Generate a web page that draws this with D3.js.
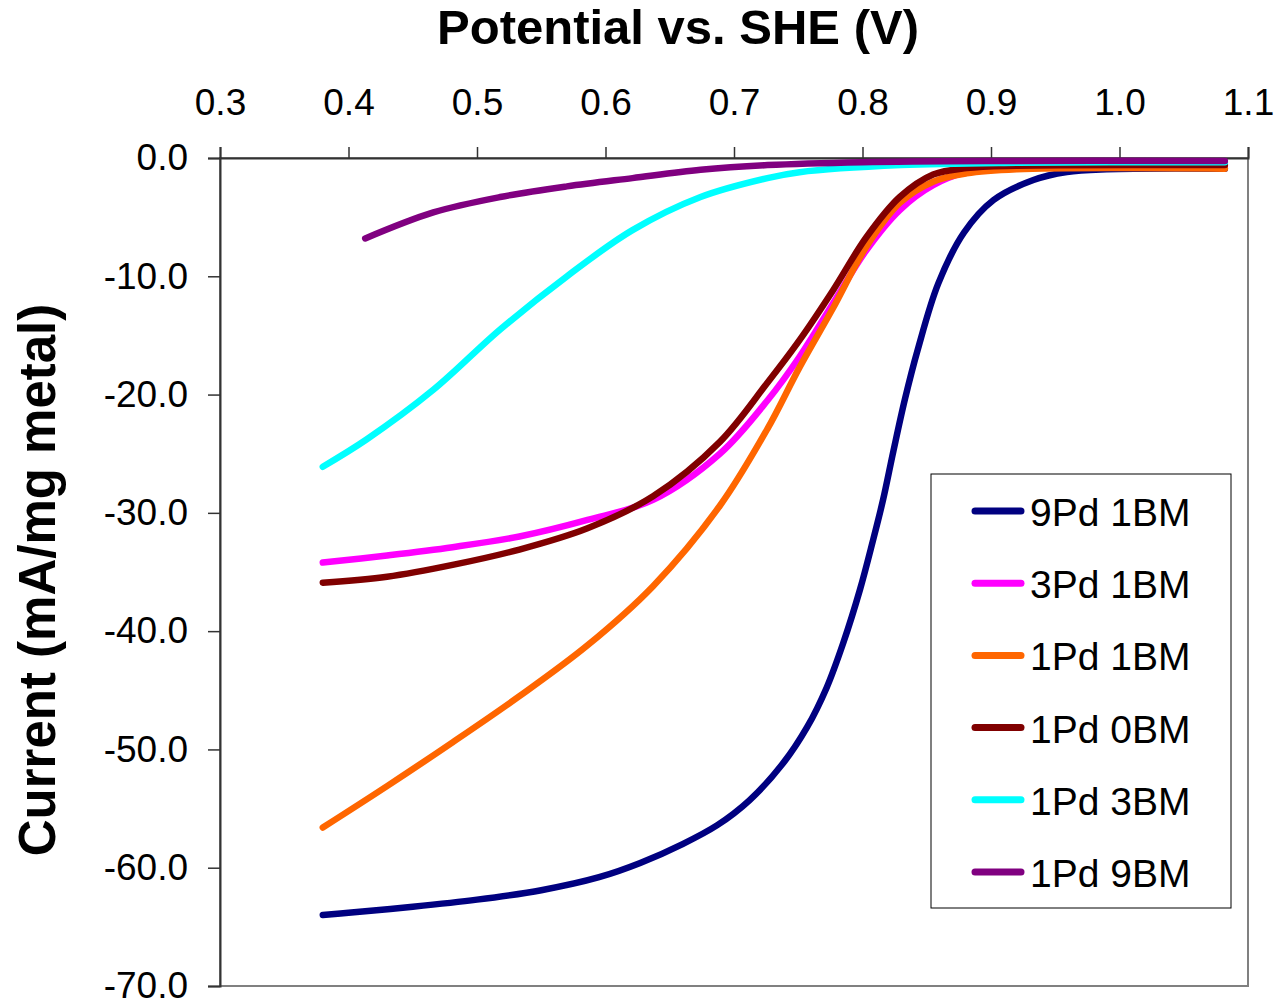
<!DOCTYPE html>
<html>
<head>
<meta charset="utf-8">
<script src="https://cdn.jsdelivr.net/npm/d3@7"></script>
<style>
  body { margin: 0; background: #fff; }
  svg { display: block; font-family: "Liberation Sans", Arial, sans-serif; }
</style>
</head>
<body>
<div id="chart"></div>
<script>
// potential vs SHE (V), current (mA/mg metal)
const pd9bm1 = [[0.380,-64.0],[0.40,-63.8],[0.45,-63.3],[0.50,-62.7],[0.55,-61.9],[0.595,-60.8],[0.627,-59.6],[0.660,-58.0],[0.687,-56.4],[0.712,-54.3],[0.738,-51.2],[0.757,-48.1],[0.772,-44.8],[0.785,-41.0],[0.798,-36.5],[0.808,-32.4],[0.816,-28.9],[0.824,-24.8],[0.833,-20.4],[0.843,-16.2],[0.859,-10.6],[0.879,-6.3],[0.902,-3.55],[0.933,-1.86],[0.959,-1.18],[0.99,-0.95],[1.082,-0.9]];
const pd3bm1 = [[0.380,-34.2],[0.430,-33.6],[0.481,-32.9],[0.533,-32.0],[0.586,-30.6],[0.637,-28.9],[0.689,-25.0],[0.726,-20.5],[0.751,-16.8],[0.777,-12.3],[0.803,-7.8],[0.829,-4.4],[0.855,-2.3],[0.881,-1.2],[0.92,-0.75],[1.082,-0.6]];
const pd1bm1 = [[0.380,-56.6],[0.430,-53.1],[0.481,-49.4],[0.533,-45.5],[0.586,-41.2],[0.637,-36.2],[0.689,-29.4],[0.726,-22.9],[0.751,-17.7],[0.777,-12.7],[0.803,-7.5],[0.829,-3.8],[0.855,-2.0],[0.881,-1.3],[0.92,-0.95],[1.082,-0.9]];
const pd1bm0 = [[0.380,-35.9],[0.430,-35.4],[0.481,-34.4],[0.533,-33.1],[0.586,-31.3],[0.637,-28.6],[0.689,-24.0],[0.726,-19.0],[0.751,-15.4],[0.777,-11.2],[0.803,-6.7],[0.829,-3.3],[0.855,-1.4],[0.881,-0.85],[0.92,-0.65],[1.082,-0.6]];
const pd1bm3 = [[0.380,-26.1],[0.414,-23.8],[0.466,-19.6],[0.518,-14.5],[0.570,-10.0],[0.621,-6.1],[0.674,-3.3],[0.726,-1.7],[0.751,-1.2],[0.83,-0.6],[0.92,-0.4],[1.082,-0.35]];
const pd1bm9 = [[0.413,-6.8],[0.466,-4.6],[0.518,-3.3],[0.570,-2.4],[0.621,-1.7],[0.674,-1.0],[0.726,-0.6],[0.80,-0.35],[0.90,-0.25],[1.082,-0.25]];

const names = ["9Pd 1BM", "3Pd 1BM", "1Pd 1BM", "1Pd 0BM", "1Pd 3BM", "1Pd 9BM"];
const colors = ["#000080", "#ff00ff", "#ff6600", "#800000", "#00ffff", "#800080"];
const seriesData = [pd9bm1, pd3bm1, pd1bm1, pd1bm0, pd1bm3, pd1bm9];

const xTicks = [0.3, 0.4, 0.5, 0.6, 0.7, 0.8, 0.9, 1.0, 1.1];
const yTicks = [0, -10, -20, -30, -40, -50, -60, -70];

const width = 1276, height = 1001;
const margin = { top: 158, right: 28, bottom: 15, left: 220 };

const x = d3.scaleLinear().domain([0.3, 1.1]).range([margin.left, width - margin.right]);
const y = d3.scaleLinear().domain([0, -70]).range([margin.top, height - margin.bottom]);

// excel style labels: plain hyphen, one decimal
const fmt = d => d.toFixed(1);

const svg = d3.select("#chart").append("svg")
  .attr("width", width)
  .attr("height", height);

// plot area border (right and bottom)
svg.append("rect")
  .attr("x", x(0.3)).attr("y", y(0))
  .attr("width", x(1.1) - x(0.3)).attr("height", y(-70) - y(0))
  .attr("fill", "none").attr("stroke", "#808080").attr("stroke-width", 2);

// x axis on top
const xAxis = svg.append("g")
  .attr("transform", `translate(0,${y(0)})`)
  .call(d3.axisTop(x).tickValues(xTicks).tickFormat(fmt).tickSizeOuter(0).tickSize(11).tickPadding(32));

// y axis on left
const yAxis = svg.append("g")
  .attr("transform", `translate(${x(0.3)},0)`)
  .call(d3.axisLeft(y).tickValues(yTicks).tickFormat(fmt).tickSizeOuter(0).tickSize(12).tickPadding(20));

[xAxis, yAxis].forEach(g => {
  g.select(".domain").attr("stroke", "#333").attr("stroke-width", 2);
  g.selectAll(".tick line").attr("stroke", "#333").attr("stroke-width", 1.5);
  g.selectAll(".tick text")
    .attr("fill", "#000")
    .style("font-size", "37px")
    .style("font-family", "'Liberation Sans', Arial, sans-serif");
});
xAxis.selectAll(".tick text").attr("dy", "0em");

const line = d3.line()
  .x(d => x(d[0]))
  .y(d => y(d[1]))
  .curve(d3.curveCatmullRom.alpha(0.5));

svg.append("g")
  .selectAll("path")
  .data(seriesData)
  .join("path")
  .attr("d", line)
  .attr("fill", "none")
  .attr("stroke", (d, i) => colors[i])
  .attr("stroke-width", 6.5)
  .attr("stroke-linecap", "round")
  .attr("stroke-linejoin", "round");

// titles
svg.append("text")
  .attr("x", 678).attr("y", 44)
  .attr("text-anchor", "middle")
  .style("font-size", "49px").style("font-weight", "bold")
  .text("Potential vs. SHE (V)");

svg.append("text")
  .attr("transform", `translate(55,580) rotate(-90)`)
  .attr("text-anchor", "middle")
  .style("font-size", "51px").style("font-weight", "bold")
  .text("Current (mA/mg metal)");

// legend
const legend = svg.append("g");
legend.append("rect")
  .attr("x", 931).attr("y", 474).attr("width", 300).attr("height", 434)
  .attr("fill", "#fff").attr("stroke", "#000").attr("stroke-width", 1);

const item = legend.selectAll("g.item")
  .data(names)
  .join("g")
  .attr("class", "item")
  .attr("transform", (d, i) => `translate(0,${511 + i * 72.2})`);

item.append("line")
  .attr("x1", 975).attr("x2", 1021)
  .attr("stroke", (d, i) => colors[i])
  .attr("stroke-width", 7)
  .attr("stroke-linecap", "round");

item.append("text")
  .attr("x", 1030).attr("y", 15)
  .style("font-size", "39px")
  .text(d => d);
</script>
</body>
</html>
